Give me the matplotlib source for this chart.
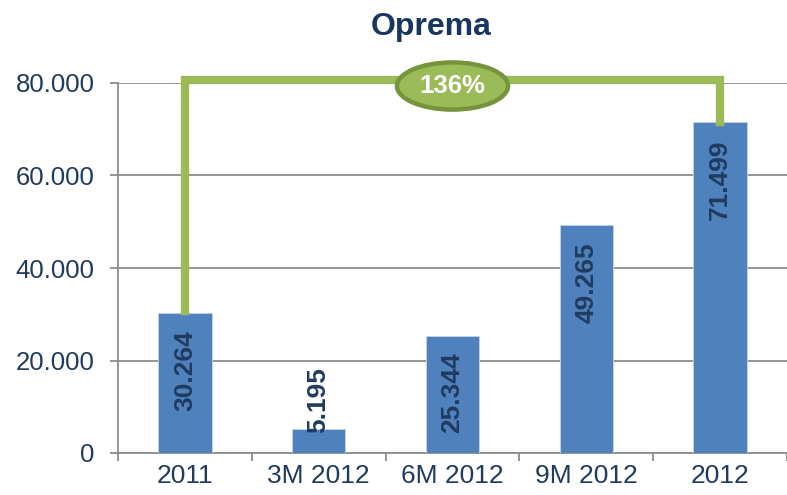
import numpy as np
import matplotlib
matplotlib.use("Agg")
import matplotlib.pyplot as plt
from matplotlib.patches import Ellipse
from matplotlib.ticker import FixedLocator

plt.rcParams['font.family'] = ['Liberation Sans', 'DejaVu Sans']

# data
categories = ["2011", "3M 2012", "6M 2012", "9M 2012", "2012"]
values = [30264, 5195, 25344, 49265, 71499]
value_labels = ["30.264", "5.195", "25.344", "49.265", "71.499"]
y_ticks = [0, 20000, 40000, 60000, 80000]
y_tick_labels = ["0", "20.000", "40.000", "60.000", "80.000"]
growth_label = "136%"
bracket_level = 80650

bar_color = "#4F81BD"
navy = "#1F3B5E"
grid_gray = "#8C8C8C"
green = "#9BBB59"
green_dark = "#77933C"

fig = plt.figure(figsize=(7.87, 4.95), dpi=100)
ax = fig.add_axes([118/787, 1 - 453/495, 669/787, 370/495])

x = np.arange(len(categories))
ax.bar(x, values, width=0.40, color=bar_color, edgecolor="#C5D5EA", linewidth=0.6, zorder=3)

ax.set_xlim(-0.5, len(categories) - 0.5)
ax.set_ylim(0, 80000)

ax.set_yticks(y_ticks)
ax.set_yticklabels(y_tick_labels)
ax.set_xticks(x)
ax.set_xticklabels(categories)
ax.xaxis.set_minor_locator(FixedLocator(np.arange(len(categories) + 1) - 0.5))

for s in ['top', 'right']:
    ax.spines[s].set_visible(False)
for s in ['left', 'bottom']:
    ax.spines[s].set_color(grid_gray)
    ax.spines[s].set_linewidth(1.3)

ax.grid(axis='y', color=grid_gray, linewidth=1.3, zorder=0)
ax.set_axisbelow(True)

ax.tick_params(axis='y', which='major', length=6, width=1.3, color=grid_gray,
               labelsize=18.5, labelcolor=navy, pad=11)
ax.tick_params(axis='x', which='major', length=0, labelsize=19, labelcolor=navy, pad=8)
ax.tick_params(axis='x', which='minor', length=6, width=1.3, color=grid_gray)

# value labels inside the bar top, or above the base when the bar is short
for xi, v, lab in zip(x, values, value_labels):
    top_px = ax.transData.transform((xi, v))[1]
    base_px = ax.transData.transform((xi, 0))[1]
    text_len = 66 if len(lab) < 6 else 80
    if top_px - base_px > text_len + 17 + 20:
        ax.annotate(lab, (xi, v), xytext=(0, -17), textcoords='offset pixels',
                    rotation=90, ha='center', va='top', fontsize=19,
                    fontweight='bold', color=navy, zorder=5)
    else:
        ax.annotate(lab, (xi, 0), xytext=(0, 20), textcoords='offset pixels',
                    rotation=90, ha='center', va='bottom', fontsize=19,
                    fontweight='bold', color=navy, zorder=5)

# growth bracket 2011 -> 2012
ax.plot([x[0], x[0], x[-1], x[-1]], [values[0] + 400, bracket_level, bracket_level, values[-1]],
        color=green, linewidth=6, solid_joinstyle='miter', clip_on=False, zorder=6)
ell = Ellipse((2.0, bracket_level - 1300), width=0.83, height=10200,
              facecolor=green, edgecolor=green_dark, linewidth=3.2, clip_on=False, zorder=7)
ax.add_patch(ell)
ax.text(2.0, bracket_level - 1300, growth_label, ha='center', va='center', fontsize=18.5,
        fontweight='bold', color='white', zorder=8)

fig.text(0.5 + 38/787, 1 - 27/495, "Oprema", ha='center', va='center', fontsize=23,
         fontweight='bold', color="#17375E")

fig.savefig("out.png", dpi=100)
